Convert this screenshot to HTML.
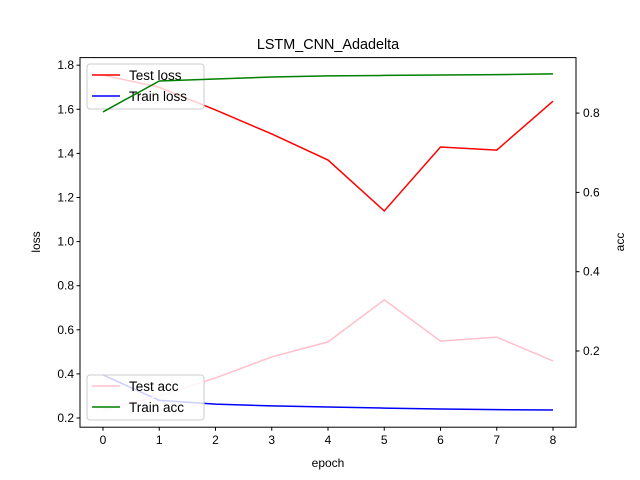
<!DOCTYPE html>
<html><head><meta charset="utf-8"><style>body{margin:0;background:#fff}svg{display:block;font-family:"Liberation Sans","DejaVu Sans",sans-serif}</style></head>
<body>
<svg id="chart" width="640" height="480" xmlns="http://www.w3.org/2000/svg"></svg>
<script>
const epochs=[0,1,2,3,4,5,6,7,8];
const testLoss=[1.755,1.70,1.597,1.488,1.37,1.139,1.429,1.415,1.637];
const trainLoss=[0.395,0.28,0.263,0.255,0.25,0.245,0.241,0.238,0.236];
const trainAcc=[0.803,0.881,0.886,0.891,0.894,0.895,0.896,0.897,0.899];
const testAcc=[0.051,0.087,0.132,0.185,0.223,0.329,0.225,0.235,0.175];
const lossTicks=[0.2,0.4,0.6,0.8,1.0,1.2,1.4,1.6,1.8];
const accTicks=[0.2,0.4,0.6,0.8];
const svg=document.getElementById('chart');
const NS='http://www.w3.org/2000/svg';
const L=80,R=576,T=57.6,B=427.2;
const x=v=>103+v*56.25;
const yl=v=>418-(v-0.2)*220.5;
const yr=v=>430.3-v*396.5;
function mk(t,a,p){const e=document.createElementNS(NS,t);for(const k in a)e.setAttribute(k,a[k]);(p||svg).appendChild(e);return e;}
function txt(s,a){const e=mk('text',Object.assign({'font-size':12,fill:'#000'},a));e.textContent=s;return e;}
const ax=mk('rect',{x:L,y:T,width:R-L,height:B-T,fill:'none',stroke:'#000','stroke-width':1});

epochs.forEach(e=>{mk('line',{x1:x(e),x2:x(e),y1:B,y2:B+3.5,stroke:'#000'});const t=txt(String(e),{x:x(e),y:B+17,'text-anchor':'middle'});});
lossTicks.forEach(v=>{mk('line',{x1:L-3.5,x2:L,y1:yl(v),y2:yl(v),stroke:'#000'});const t=txt(v.toFixed(1),{x:L-6,y:yl(v)+4,'text-anchor':'end'});});
accTicks.forEach(v=>{mk('line',{x1:R,x2:R+3.5,y1:yr(v),y2:yr(v),stroke:'#000'});const t=txt(v.toFixed(1),{x:R+7,y:yr(v)+4});});
let t=txt('epoch',{x:328,y:467,'text-anchor':'middle'});
t=txt('loss',{x:40,y:242,'text-anchor':'middle',transform:'rotate(-90 40 242)'});
t=txt('acc',{x:624,y:242,'text-anchor':'middle',transform:'rotate(-90 624 242)'});
t=txt('LSTM_CNN_Adadelta',{x:328,y:49,'text-anchor':'middle','font-size':14.4});
function line(d,yf,c,n){const p=mk('polyline',{points:d.map((v,i)=>x(epochs[i])+','+yf(v)).join(' '),fill:'none',stroke:c,'stroke-width':1.5});}
line(testLoss,yl,'red','test-loss-line');
line(trainLoss,yl,'blue','train-loss-line');
function legend(x0,y0,items,n){const g=mk('g',{});
mk('rect',{x:x0,y:y0,width:117,height:45,rx:3,fill:'#fff','fill-opacity':0.8,stroke:'#ccc'},g);
items.forEach((it,i)=>{const yy=y0+11+i*21;mk('line',{x1:x0+5,x2:x0+33,y1:yy,y2:yy,stroke:it[1],'stroke-width':1.5},g);const tt=mk('text',{x:x0+42,y:yy+5,'font-size':13.5},g);tt.textContent=it[0];});}
legend(87,64,[['Test loss','red'],['Train loss','blue']],'loss-legend');
line(trainAcc,yr,'green','train-acc-line');
line(testAcc,yr,'pink','test-acc-line');
legend(87,375,[['Test acc','pink'],['Train acc','green']],'acc-legend');
</script>
</body></html>
